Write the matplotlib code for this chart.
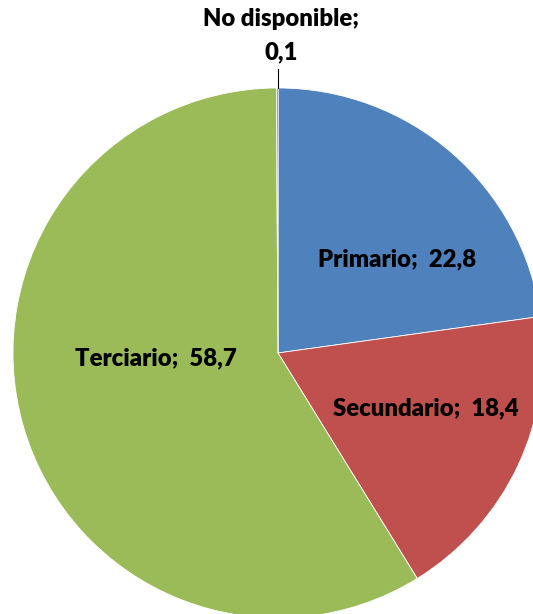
import matplotlib
matplotlib.use('Agg')
import matplotlib.pyplot as plt

# datos del gráfico (porcentajes por sector)
categorias = ['Primario', 'Secundario', 'Terciario', 'No disponible']
valores = [22.8, 18.4, 58.7, 0.1]
colores = ['#4F81BD', '#C0504D', '#9BBB59', '#8064A2']

plt.rcParams['font.family'] = ['Lato', 'DejaVu Sans']

fig = plt.figure(figsize=(5.33, 6.14), dpi=100)
ax = fig.add_axes([0, 0, 1, 1])

ax.pie(valores, colors=colores, startangle=90, counterclock=False,
       radius=1.0, wedgeprops=dict(edgecolor='white', linewidth=0.6))

# limits chosen so the pie is cut at the right and bottom like the original
ax.set_aspect('auto')
ax.set_xlim(-1.049, 0.962)
ax.set_ylim(-0.985, 1.332)

def etiqueta(i):
    return '%s;  %s' % (categorias[i], str(valores[i]).replace('.', ','))

fs = 17.2
ax.text(0.449, 0.355, etiqueta(0), ha='center', va='center', fontsize=fs, fontweight='heavy')
ax.text(0.558, -0.208, etiqueta(1), ha='center', va='center', fontsize=fs, fontweight='heavy')
ax.text(-0.460, -0.019, etiqueta(2), ha='center', va='center', fontsize=fs, fontweight='heavy')

# etiqueta de la porción diminuta, con línea guía
ax.plot([0, 0], [1.0, 1.07], color='black', linewidth=0.8)
ax.text(0.011, 1.197, 'No disponible;\n0,1', ha='center', va='center',
        fontsize=fs, fontweight='heavy', linespacing=1.6)

ax.axis('off')
fig.savefig('out.png', dpi=100)
